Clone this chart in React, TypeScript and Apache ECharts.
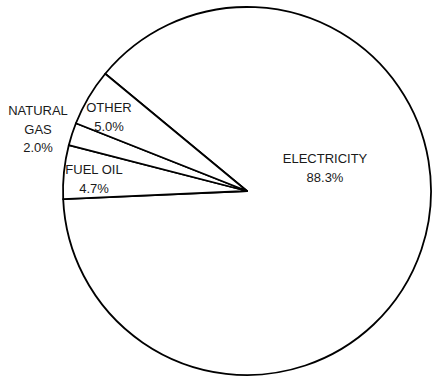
import React, { useEffect, useRef } from "react";
import * as echarts from "echarts";

// Energy use shares by source (percent)
const categories = ["ELECTRICITY", "FUEL OIL", "NATURAL\nGAS", "OTHER"];
const shares = [88.3, 4.7, 2.0, 5.0];

// Label anchor points (centre of each label block), in pixels
const labelSpots: [number, number][] = [
  [325, 168],
  [94, 179],
  [38, 129],
  [109, 117],
];

export default function App() {
  const ref = useRef<HTMLDivElement>(null);

  useEffect(() => {
    if (!ref.current) return;
    const chart = echarts.init(ref.current, null, { renderer: "svg" });
    chart.setOption({
      animation: false,
      backgroundColor: "#ffffff",
      series: [
        {
          type: "pie",
          center: [247, 191],
          radius: [0, 184],
          startAngle: 140.4,
          clockwise: true,
          avoidLabelOverlap: false,
          silent: true,
          itemStyle: {
            color: "#ffffff",
            borderColor: "#000000",
            borderWidth: 1.8,
          },
          label: {
            show: true,
            position: "inside",
            color: "#1a1a1a",
            fontFamily: "Liberation Sans, Arial, sans-serif",
            fontSize: 13,
            lineHeight: 18.5,
            align: "center",
            formatter: (p: any) => `${p.name}\n${p.value.toFixed(1)}%`,
          },
          labelLine: { show: false },
          labelLayout: (p: any) => {
            const s = labelSpots[p.dataIndex];
            return { x: s[0], y: s[1], align: "center", verticalAlign: "middle" };
          },
          data: categories.map((name, i) => ({ name, value: shares[i] })),
        },
      ],
    });
    return () => chart.dispose();
  }, []);

  return (
    <div
      ref={ref}
      style={{ position: "fixed", left: 0, top: 0, width: 432, height: 377 }}
    />
  );
}
